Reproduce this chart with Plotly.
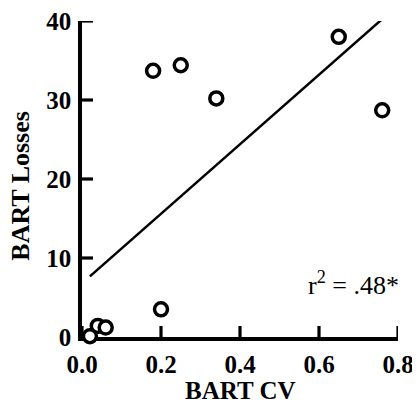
import numpy as np
import plotly.graph_objects as go

# Data
bart_cv = [0.02, 0.04, 0.06, 0.20, 0.18, 0.25, 0.34, 0.65, 0.76]
bart_losses = [0.1, 1.4, 1.2, 3.5, 33.7, 34.4, 30.2, 38.0, 28.7]
x_ticks = [0.0, 0.2, 0.4, 0.6, 0.8]
x_tick_labels = ["0.0", "0.2", "0.4", "0.6", "0.8"]
y_ticks = [0, 10, 20, 30, 40]
y_tick_labels = ["0", "10", "20", "30", "40"]
r2_label = "r<sup>2</sup> = .48*"

x_range = [0, 0.8]
y_range = [0, 40]

slope, intercept = np.polyfit(bart_cv, bart_losses, 1)
fit_x = [min(bart_cv), max(bart_cv)]
fit_y = [slope * v + intercept for v in fit_x]

FONT = "Liberation Serif, Times New Roman, serif"

# layout geometry (page body adds an 8px offset)
W, H = 412, 397
ML, MR, MT, MB = 74, 22, 13, 68
plot_w = W - ML - MR
plot_h = H - MT - MB
TICK_PX = 11
tick_len_x = TICK_PX * (x_range[1] - x_range[0]) / plot_w
tick_len_y = TICK_PX * (y_range[1] - y_range[0]) / plot_h

# inside tick marks, built from the tick values
tx, ty = [], []
for v in x_ticks:
    tx += [v, v, None]
    ty += [y_range[0], y_range[0] + tick_len_y, None]
for v in y_ticks:
    tx += [x_range[0], x_range[0] + tick_len_x, None]
    ty += [v, v, None]

fig = go.Figure()
fig.add_trace(go.Scatter(
    x=tx, y=ty, mode="lines", line=dict(color="black", width=3.2),
    cliponaxis=False, showlegend=False, hoverinfo="skip"))
fig.add_trace(go.Scatter(
    x=fit_x, y=fit_y, mode="lines",
    line=dict(color="black", width=2.5),
    cliponaxis=False, showlegend=False, hoverinfo="skip"))
fig.add_trace(go.Scatter(
    x=bart_cv, y=bart_losses, mode="markers",
    marker=dict(symbol="circle", size=13, color="white",
                line=dict(color="black", width=3.5)),
    cliponaxis=False, showlegend=False))

axis_common = dict(
    showgrid=False, zeroline=False, showline=True,
    linecolor="black", linewidth=3.5,
    ticks="", layer="below traces",
    automargin=False,
    ticklabeloverflow="allow",
    tickfont=dict(family=FONT, size=25, color="black", weight="bold"),
)

fig.update_layout(
    width=W, height=H,
    margin=dict(l=ML, r=MR, t=MT, b=MB, autoexpand=False),
    paper_bgcolor="white", plot_bgcolor="rgba(0,0,0,0)",
    xaxis=dict(range=x_range, tickvals=x_ticks, ticktext=x_tick_labels,
               ticklabelstandoff=2, **axis_common),
    yaxis=dict(range=y_range, tickvals=y_ticks, ticktext=y_tick_labels,
               ticklabelstandoff=2, **axis_common),
    annotations=[
        dict(text=r2_label, xref="paper", yref="paper",
             x=1.01, y=0.11, xanchor="right", yanchor="bottom",
             showarrow=False,
             font=dict(family=FONT, size=26, color="black")),
        dict(text="BART CV", xref="paper", yref="paper",
             x=0.5, y=-0.169, xanchor="center", yanchor="middle",
             showarrow=False,
             font=dict(family=FONT, size=25, color="black", weight="bold")),
        dict(text="BART Losses", xref="paper", yref="paper",
             x=-0.195, y=0.48, xanchor="center", yanchor="middle",
             textangle=-90, showarrow=False,
             font=dict(family=FONT, size=26, color="black", weight="bold")),
    ],
)

fig.write_html("out.html")
